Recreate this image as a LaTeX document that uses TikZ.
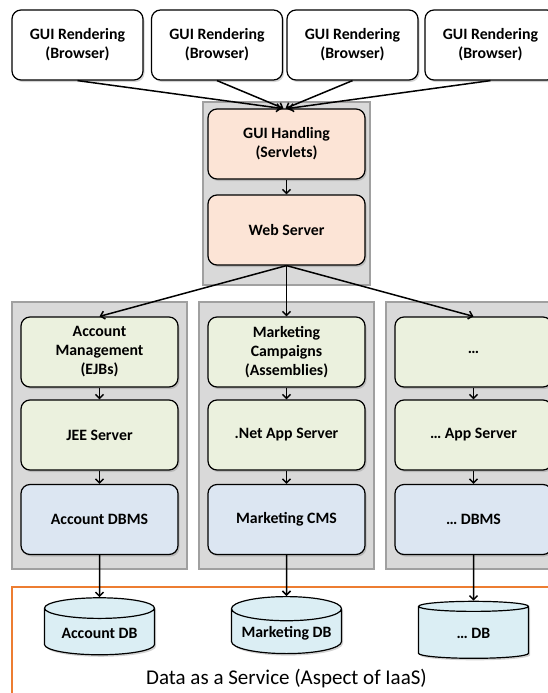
\documentclass[tikz,border=0pt]{standalone}
\usepackage{fontspec}
\setmainfont{Carlito}
\usetikzlibrary{arrows.meta,shadows,shapes.geometric}

\definecolor{boxgray}{HTML}{D9D9D9}
\definecolor{framegray}{HTML}{A0A0A0}
\definecolor{peach}{HTML}{FCE4D6}
\definecolor{olive}{HTML}{EBF1DE}
\definecolor{paleblue}{HTML}{DCE6F2}
\definecolor{aqua}{HTML}{DBEEF4}
\definecolor{daasorange}{HTML}{ED7D31}

\tikzset{
  container/.style={draw=framegray, fill=boxgray, line width=2pt},
  tier/.style={draw, line width=1.2pt, rounded corners=9pt, align=center,
    minimum width=157pt, minimum height=70pt,
    font=\bfseries\fontsize{15.8}{19}\selectfont,
    drop shadow={shadow xshift=1.5pt, shadow yshift=-2pt, opacity=0.35}},
  store/.style={cylinder, shape border rotate=90, draw, line width=1.2pt,
    fill=aqua, aspect=0.25, minimum width=110pt, minimum height=57pt,
    font=\bfseries\fontsize{15.8}{19}\selectfont,
    drop shadow={shadow xshift=1.5pt, shadow yshift=-2pt, opacity=0.35}},
  link/.style={-{Straight Barb[length=4pt,width=8pt]}, line width=1.5pt}
}

\begin{document}
\begin{tikzpicture}[x=1pt, y=-1pt]
\useasboundingbox (0,0) rectangle (548,693);

% Containers
\draw[container] (203,102) rectangle (370,285);
\foreach \x in {99.5,286.5,473.5}
  \draw[container] (\x-87.5,302) rectangle (\x+87.5,569);

% DaaS frame
\draw[daasorange, line width=2pt] (12,710) -- (12,587) -- (560,587);

% Browsers
\foreach \i/\x in {1/77.5,2/217,3/352.5,4/490.5}
  \node[tier, fill=white, minimum width=131pt] (render\i) at (\x,45)
    {GUI Rendering\\(Browser)};

% Web tier
\node[tier, fill=peach] (handling) at (286.5,144) {GUI Handling\\(Servlets)};
\node[tier, fill=peach] (web) at (286.5,230) {Web Server};

% Columns
\foreach \i/\x/\logic/\server/\dbms/\db in {
    1/99.5/{Account\\Management\\(EJBs)}/JEE Server/Account DBMS/Account DB,
    2/286.5/{Marketing\\Campaigns\\(Assemblies)}/.Net App Server/Marketing CMS/Marketing DB,
    3/473.5/…/… App Server/… DBMS/… DB} {
  \node[tier, fill=olive] (logic\i) at (\x,352) {\logic};
  \node[tier, fill=olive] (server\i) at (\x,435) {\server};
  \node[tier, fill=paleblue] (dbms\i) at (\x,519.5) {\dbms};
  \node[store] (db\i) at (\x,633.5) {\db};
}

\node[font=\fontsize{21}{24}\selectfont] (daas) at (286.5,679)
  {Data as a Service (Aspect of IaaS)};

% Arrows
\foreach \i/\s in {1/-5,2/-3,3/-1,4/2}
  \draw[link] (render\i.south) -- ([xshift=\s pt]handling.north);
\draw[link] (handling) -- (web);
\foreach \i in {1,2,3} {
  \draw[link] (web.south) -- (logic\i.north);
  \draw[link] (logic\i) -- (server\i);
  \draw[link] (server\i) -- (dbms\i);
  \draw[link] (dbms\i) -- (db\i.north);
}
\end{tikzpicture}
\end{document}
